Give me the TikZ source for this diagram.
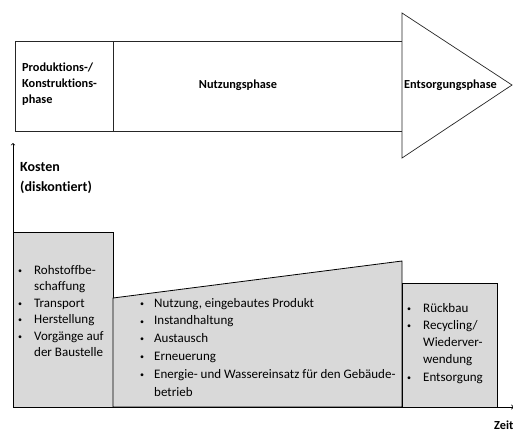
\documentclass[tikz,border=0pt]{standalone}
\usepackage{fontspec}
\setmainfont{Carlito}[Ligatures=NoCommon]
\newcommand{\pkt}{\raisebox{0.15ex}{\footnotesize\textbullet}}
\begin{document}
\begin{tikzpicture}[x=1pt,y=-1pt,
		kasten/.style={draw=black,fill=black!15,line width=0.8pt},
		rahmen/.style={draw=black!85,line width=0.7pt},
		phase/.style={font=\bfseries\fontsize{12.3}{16}\selectfont,align=left,inner sep=0pt},
		liste/.style={anchor=north west,inner sep=0pt,align=left}]
		\useasboundingbox (0,0) rectangle (513,432);

		% Phasenpfeil oben: Rechteck mit Trennlinie und Spitze
		\draw[rahmen] (15,41) rectangle (402,131);
		\draw[rahmen] (113,41) -- (113,131);
		\draw[rahmen,fill=white] (402,13) -- (512,85) -- (402,158) -- cycle;

		\node[phase,anchor=north west] (prod) at (22,63) {Produktions-/\\Konstruktions-\\phase};
		\node[phase] (nutz) at (238,85) {Nutzungsphase};
		\node[phase,anchor=west] (entsorg) at (404,85) {Entsorgungsphase};

		% Kostenbalken
		\draw[kasten] (13,232) rectangle (113,407);
		\draw[kasten] (113,298) -- (402,261) -- (402,407) -- (113,407) -- cycle;
		\draw[kasten] (402,283) rectangle (497,407);

		% Achsen
		\coordinate (ursprung) at (13,407);
		\coordinate (kostenende) at (13,143);
		\coordinate (zeitende) at (514,407);
		\draw[->,line width=0.7pt] (ursprung) -- (kostenende);
		\draw[->,line width=0.9pt] (ursprung) -- (zeitende);

		\node[phase,font=\bfseries\fontsize{14}{20}\selectfont,anchor=north west] (kosten) at (20,162) {Kosten\\(diskontiert)};
		\node[phase,anchor=west] (zeit) at (494,425.5) {Zeit};

		% Listen in den Balken
		\node[liste] (liste1) at (18,262.5) {\fontsize{13}{16.5}\selectfont
			\begin{tabular}{@{}l@{\hspace{12pt}}l@{}}
				\pkt & Rohstoffbe-\\
				& schaffung\\
				\pkt & Transport\\
				\pkt & Herstellung\\
				\pkt & Vorgänge auf\\
				& der Baustelle
			\end{tabular}};
		\node[liste] (liste2) at (140,294.5) {\fontsize{13}{17.8}\selectfont
			\begin{tabular}{@{}l@{\hspace{10pt}}l@{}}
				\pkt & Nutzung, eingebautes Produkt\\
				\pkt & Instandhaltung\\
				\pkt & Austausch\\
				\pkt & Erneuerung\\
				\pkt & Energie- und Wassereinsatz für den Gebäude-\\
				& betrieb
			\end{tabular}};
		\node[liste] (liste3) at (407,300) {\fontsize{13}{17.2}\selectfont
			\begin{tabular}{@{}l@{\hspace{12pt}}l@{}}
				\pkt & Rückbau\\
				\pkt & Recycling/\\
				& Wiederver-\\
				& wendung\\
				\pkt & Entsorgung
			\end{tabular}};
	\end{tikzpicture}
\end{document}
